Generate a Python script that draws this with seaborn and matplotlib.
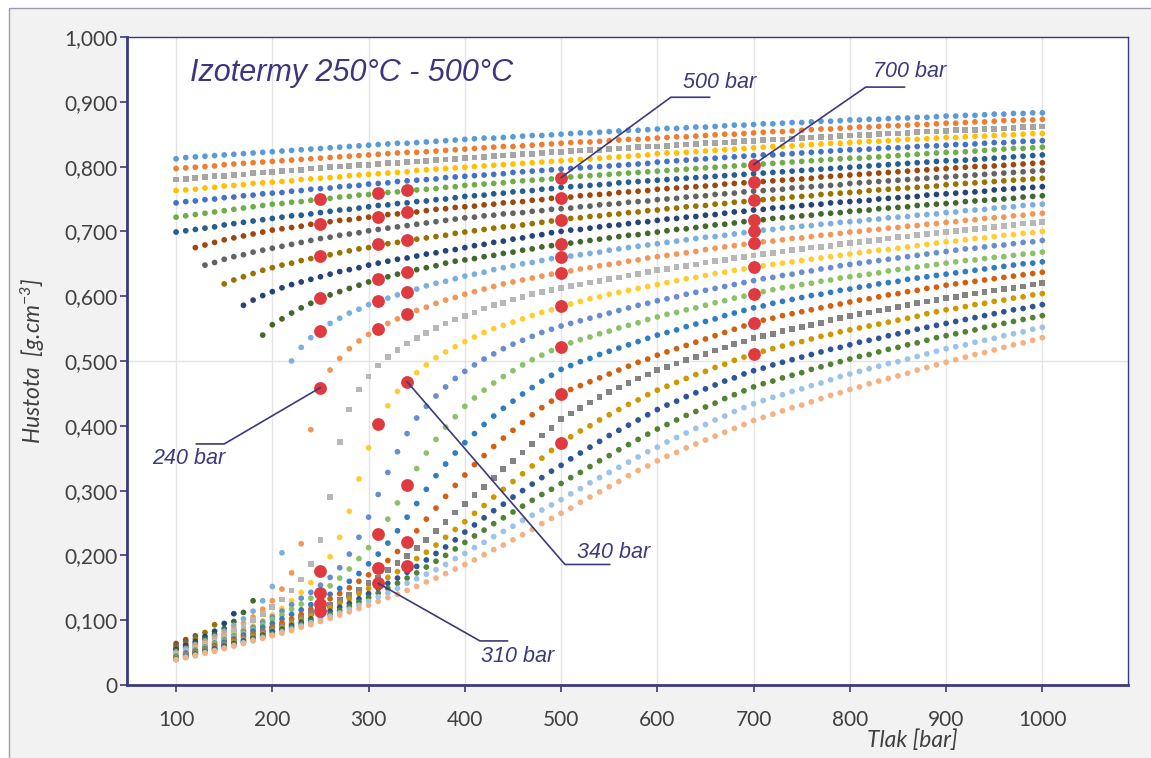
import numpy as np
import pandas as pd
import seaborn as sns
import matplotlib.pyplot as plt
from matplotlib.patches import Rectangle

# tlak [bar], body po 10 bar
tlak = list(range(100, 1001, 10))

# hustota izoterm v kg/m3, 250 C ... 500 C
h250 = [812, 814, 815, 816, 817, 818, 819, 820, 821, 822, 823,
        824, 825, 826, 827, 828, 829, 830, 831, 832, 833,
        834, 835, 836, 836, 837, 838, 839, 840, 841, 842,
        843, 844, 844, 845, 846, 847, 848, 848, 849, 850,
        851, 852, 852, 853, 854, 855, 856, 856, 857, 858,
        859, 859, 860, 861, 861, 862, 863, 864, 864, 865,
        866, 866, 867, 868, 868, 869, 870, 870, 871, 872,
        872, 873, 873, 874, 875, 875, 876, 876, 877, 878,
        878, 879, 879, 880, 881, 881, 882, 882, 883, 883]
h260 = [797, 798, 799, 800, 801, 803, 804, 805, 806, 807, 808,
        809, 810, 811, 812, 813, 814, 815, 816, 817, 818,
        819, 820, 821, 822, 822, 823, 824, 825, 826, 827,
        828, 829, 830, 831, 831, 832, 833, 834, 835, 836,
        837, 838, 838, 839, 840, 841, 842, 842, 843, 844,
        845, 846, 846, 847, 848, 849, 850, 850, 851, 852,
        853, 854, 854, 855, 856, 857, 858, 858, 859, 860,
        861, 861, 862, 863, 863, 864, 865, 865, 866, 867,
        867, 868, 869, 869, 870, 871, 871, 872, 872, 873]
h270 = [780, 781, 782, 784, 785, 786, 787, 788, 790, 791, 792,
        793, 794, 795, 797, 798, 799, 800, 801, 802, 803,
        804, 805, 806, 807, 808, 809, 810, 811, 812, 813,
        814, 815, 816, 817, 818, 819, 820, 821, 822, 823,
        824, 825, 826, 826, 827, 828, 829, 830, 831, 831,
        832, 833, 834, 835, 836, 836, 837, 838, 839, 840,
        841, 842, 842, 843, 844, 845, 846, 846, 847, 848,
        849, 849, 850, 851, 851, 852, 853, 854, 854, 855,
        856, 856, 857, 858, 858, 859, 860, 861, 861, 862]
h280 = [763, 764, 765, 767, 768, 770, 771, 772, 774, 775, 776,
        777, 778, 780, 781, 782, 783, 784, 786, 787, 788,
        789, 790, 791, 792, 794, 795, 796, 797, 798, 799,
        800, 801, 802, 803, 804, 805, 806, 807, 808, 809,
        810, 811, 812, 813, 814, 815, 816, 817, 818, 820,
        821, 821, 822, 823, 824, 825, 826, 827, 828, 829,
        830, 831, 831, 832, 833, 834, 835, 836, 836, 837,
        838, 839, 839, 840, 841, 842, 842, 843, 844, 845,
        845, 846, 847, 847, 848, 849, 849, 850, 851, 851]
h290 = [744, 746, 747, 749, 750, 752, 753, 755, 756, 758, 759,
        760, 762, 763, 765, 766, 767, 769, 770, 771, 773,
        774, 775, 777, 778, 779, 780, 781, 783, 784, 785,
        786, 787, 788, 789, 791, 792, 793, 794, 795, 796,
        797, 798, 799, 800, 801, 802, 803, 804, 805, 807,
        808, 809, 810, 811, 812, 813, 814, 815, 816, 817,
        818, 818, 819, 820, 821, 822, 823, 824, 825, 826,
        826, 827, 828, 829, 829, 830, 831, 832, 832, 833,
        834, 834, 835, 836, 837, 837, 838, 839, 839, 840]
h300 = [722, 724, 726, 728, 730, 732, 734, 736, 738, 740, 742,
        743, 745, 746, 748, 750, 751, 753, 754, 756, 757,
        758, 760, 761, 762, 764, 765, 766, 768, 769, 771,
        772, 773, 774, 775, 777, 778, 779, 780, 781, 783,
        784, 785, 786, 787, 788, 789, 790, 791, 792, 793,
        794, 795, 796, 797, 798, 799, 800, 801, 802, 803,
        804, 805, 806, 807, 808, 809, 810, 811, 812, 813,
        813, 814, 815, 816, 817, 818, 819, 820, 821, 822,
        822, 823, 824, 825, 826, 827, 828, 828, 829, 830]
h310 = [699, 701, 703, 705, 707, 710, 712, 714, 716, 718, 720,
        722, 724, 725, 727, 729, 731, 733, 734, 736, 738,
        740, 741, 743, 744, 746, 747, 749, 750, 752, 754,
        755, 756, 758, 759, 761, 762, 763, 765, 766, 768,
        769, 770, 771, 772, 773, 775, 776, 777, 778, 779,
        780, 781, 782, 783, 784, 785, 786, 787, 788, 789,
        790, 791, 792, 793, 794, 795, 796, 797, 798, 799,
        800, 801, 802, 803, 804, 805, 806, 807, 808, 809,
        809, 810, 811, 812, 813, 814, 815, 816, 817, 818]
h320 = [64, 70, 675, 679, 683, 687, 690, 693, 696, 699, 702,
        704, 706, 708, 711, 713, 715, 717, 718, 720, 722,
        724, 726, 727, 729, 730, 732, 734, 735, 737, 738,
        739, 741, 742, 744, 745, 746, 748, 749, 751, 752,
        753, 755, 756, 757, 758, 760, 761, 762, 763, 765,
        766, 767, 768, 769, 770, 771, 773, 774, 775, 776,
        777, 778, 779, 780, 781, 782, 784, 785, 786, 787,
        788, 789, 790, 791, 792, 793, 794, 795, 796, 797,
        798, 799, 800, 800, 801, 802, 803, 804, 805, 806]
h330 = [60, 67, 76, 648, 652, 657, 661, 664, 668, 671, 674,
        677, 680, 683, 686, 689, 691, 694, 696, 698, 701,
        703, 705, 707, 709, 711, 713, 715, 717, 719, 721,
        722, 724, 725, 727, 728, 729, 731, 732, 734, 735,
        736, 738, 739, 741, 742, 743, 745, 746, 747, 749,
        750, 751, 753, 754, 755, 757, 758, 759, 761, 762,
        763, 764, 765, 767, 768, 769, 770, 771, 772, 774,
        775, 776, 777, 778, 779, 780, 781, 782, 783, 784,
        785, 786, 787, 788, 789, 790, 791, 792, 793, 794]
h340 = [57, 63, 71, 81, 93, 619, 625, 630, 635, 640, 644,
        648, 651, 655, 658, 661, 664, 667, 670, 673, 675,
        678, 681, 683, 686, 688, 690, 692, 694, 697, 699,
        701, 703, 705, 707, 708, 710, 712, 714, 716, 718,
        720, 721, 723, 724, 726, 727, 729, 730, 732, 733,
        735, 736, 738, 739, 740, 742, 743, 745, 746, 748,
        749, 750, 751, 753, 754, 755, 757, 758, 759, 760,
        761, 763, 764, 765, 766, 767, 768, 769, 770, 772,
        773, 774, 775, 776, 777, 778, 779, 780, 781, 782]
h350 = [55, 61, 67, 75, 83, 95, 110, 586, 594, 601, 607,
        613, 618, 622, 626, 630, 634, 638, 641, 644, 648,
        651, 654, 657, 659, 662, 665, 667, 670, 672, 675,
        678, 680, 683, 685, 688, 690, 693, 695, 698, 700,
        702, 703, 705, 707, 709, 710, 712, 714, 715, 717,
        719, 720, 722, 723, 725, 726, 728, 730, 731, 733,
        734, 736, 737, 738, 740, 741, 742, 744, 745, 746,
        747, 748, 750, 751, 752, 753, 754, 756, 757, 758,
        759, 760, 761, 762, 764, 765, 766, 767, 768, 769]
h360 = [53, 58, 64, 71, 78, 87, 98, 112, 130, 540, 556,
        565, 574, 582, 589, 596, 602, 607, 612, 617, 622,
        626, 630, 634, 637, 641, 644, 647, 651, 654, 656,
        658, 661, 663, 666, 668, 671, 673, 676, 678, 680,
        682, 684, 686, 688, 690, 692, 694, 695, 697, 699,
        701, 703, 704, 706, 708, 710, 711, 713, 715, 717,
        718, 720, 721, 722, 724, 725, 727, 728, 729, 731,
        732, 733, 735, 736, 737, 738, 740, 741, 742, 743,
        744, 746, 747, 748, 749, 750, 751, 753, 754, 755]
h370 = [51, 56, 62, 68, 75, 83, 92, 102, 114, 130, 152,
        204, 500, 521, 536, 548, 558, 566, 574, 580, 587,
        592, 597, 602, 607, 611, 616, 620, 623, 627, 631,
        634, 637, 641, 644, 647, 650, 652, 655, 658, 660,
        662, 664, 666, 668, 671, 673, 675, 677, 679, 681,
        683, 685, 687, 689, 691, 692, 694, 696, 698, 700,
        702, 703, 705, 706, 708, 709, 711, 712, 714, 715,
        716, 718, 719, 721, 722, 723, 725, 726, 727, 729,
        730, 732, 733, 734, 736, 737, 738, 740, 741, 742]
h380 = [49, 54, 60, 66, 72, 79, 87, 95, 105, 117, 130,
        148, 173, 218, 394, 459, 486, 504, 519, 531, 541,
        550, 558, 565, 572, 578, 583, 589, 594, 598, 603,
        607, 611, 615, 619, 622, 625, 628, 631, 634, 637,
        639, 642, 644, 647, 649, 651, 654, 656, 659, 661,
        663, 665, 667, 669, 672, 674, 676, 678, 680, 682,
        684, 685, 687, 689, 690, 692, 694, 695, 697, 699,
        700, 702, 703, 705, 706, 708, 709, 711, 712, 714,
        715, 717, 718, 720, 721, 722, 724, 725, 727, 728]
h390 = [48, 53, 58, 63, 69, 76, 83, 91, 100, 110, 120,
        132, 146, 163, 187, 224, 290, 375, 425, 456, 476,
        493, 506, 517, 527, 535, 543, 551, 558, 564, 570,
        575, 581, 586, 590, 595, 599, 603, 606, 610, 613,
        616, 618, 621, 624, 626, 629, 632, 634, 637, 640,
        642, 645, 647, 649, 652, 654, 656, 659, 661, 663,
        665, 667, 669, 671, 673, 675, 676, 678, 680, 682,
        684, 685, 687, 689, 691, 692, 694, 696, 697, 699,
        701, 702, 704, 705, 707, 708, 710, 712, 713, 715]
h400 = [46, 51, 55, 60, 66, 71, 77, 84, 91, 99, 108,
        118, 130, 143, 158, 176, 198, 228, 268, 318, 366,
        403, 431, 453, 468, 482, 494, 505, 514, 522, 530,
        537, 544, 550, 555, 560, 565, 570, 575, 579, 584,
        588, 592, 596, 599, 603, 606, 609, 612, 615, 618,
        621, 624, 627, 629, 632, 635, 637, 640, 642, 645,
        647, 649, 651, 653, 655, 657, 659, 661, 663, 665,
        667, 669, 671, 672, 674, 676, 678, 680, 682, 684,
        685, 687, 689, 690, 692, 694, 695, 697, 698, 700]
h410 = [45, 50, 54, 59, 65, 70, 76, 83, 89, 97, 105,
        114, 124, 134, 143, 154, 166, 181, 202, 228, 259,
        294, 328, 360, 388, 412, 430, 446, 460, 473, 484,
        494, 503, 511, 519, 526, 532, 538, 544, 549, 554,
        558, 562, 566, 570, 574, 578, 582, 586, 589, 593,
        596, 599, 603, 606, 609, 612, 615, 618, 621, 624,
        627, 629, 632, 634, 637, 639, 642, 644, 647, 649,
        651, 653, 655, 657, 659, 661, 663, 665, 667, 669,
        671, 673, 674, 676, 678, 679, 681, 683, 684, 686]
h420 = [44, 48, 53, 58, 63, 68, 74, 80, 86, 93, 101,
        108, 117, 125, 134, 142, 153, 165, 179, 195, 212,
        233, 256, 281, 308, 334, 358, 379, 398, 414, 430,
        443, 455, 466, 476, 485, 494, 502, 509, 516, 522,
        528, 533, 537, 542, 546, 551, 555, 559, 564, 568,
        572, 575, 579, 582, 586, 590, 593, 597, 600, 604,
        607, 610, 613, 615, 618, 620, 623, 625, 628, 630,
        632, 634, 636, 639, 641, 643, 645, 647, 649, 651,
        653, 655, 656, 658, 660, 661, 663, 665, 666, 668]
h430 = [43, 48, 52, 56, 61, 66, 71, 77, 83, 89, 95,
        102, 109, 116, 124, 132, 140, 149, 160, 172, 187,
        202, 219, 238, 259, 280, 302, 323, 341, 358, 374,
        388, 402, 415, 427, 438, 449, 459, 469, 478, 487,
        493, 499, 504, 510, 515, 520, 525, 530, 535, 540,
        544, 548, 553, 557, 561, 565, 570, 574, 578, 582,
        585, 589, 592, 595, 598, 601, 603, 606, 609, 611,
        614, 616, 619, 621, 623, 626, 628, 630, 632, 634,
        636, 638, 640, 642, 644, 646, 648, 650, 651, 653]
h440 = [42, 47, 51, 55, 60, 64, 69, 74, 79, 84, 90,
        96, 102, 109, 117, 125, 133, 141, 150, 160, 170,
        180, 192, 206, 221, 238, 256, 273, 291, 308, 324,
        340, 354, 368, 381, 393, 405, 417, 428, 438, 449,
        456, 462, 468, 474, 480, 486, 492, 498, 503, 509,
        514, 519, 524, 529, 534, 539, 544, 549, 554, 559,
        563, 566, 570, 573, 576, 579, 582, 585, 588, 591,
        594, 596, 599, 602, 604, 607, 609, 612, 614, 617,
        619, 621, 623, 625, 627, 629, 631, 633, 635, 637]
h450 = [42, 46, 50, 54, 58, 62, 67, 71, 76, 81, 87,
        92, 98, 104, 111, 117, 124, 131, 139, 147, 157,
        166, 177, 188, 199, 211, 224, 238, 252, 266, 279,
        293, 306, 320, 333, 346, 359, 372, 385, 397, 410,
        419, 428, 436, 444, 452, 459, 466, 473, 479, 486,
        491, 496, 501, 506, 511, 516, 521, 526, 530, 535,
        539, 542, 546, 549, 553, 556, 559, 563, 566, 569,
        572, 575, 578, 580, 583, 586, 589, 592, 594, 597,
        599, 602, 604, 606, 609, 611, 613, 615, 618, 620]
h460 = [41, 45, 49, 53, 57, 61, 65, 70, 74, 79, 84,
        89, 95, 101, 107, 113, 119, 126, 133, 141, 149,
        157, 166, 175, 185, 195, 205, 216, 228, 240, 252,
        265, 277, 290, 302, 314, 326, 338, 350, 362, 374,
        383, 392, 400, 409, 417, 425, 433, 440, 448, 455,
        461, 467, 473, 479, 484, 490, 495, 501, 506, 511,
        515, 519, 523, 527, 530, 534, 538, 541, 545, 548,
        551, 554, 557, 560, 563, 566, 569, 573, 576, 579,
        581, 584, 587, 589, 592, 594, 597, 599, 602, 604]
h470 = [40, 44, 48, 52, 56, 60, 64, 68, 72, 77, 82,
        86, 92, 97, 102, 108, 114, 120, 126, 133, 141,
        149, 157, 165, 174, 183, 193, 203, 213, 224, 236,
        247, 258, 269, 279, 290, 300, 310, 320, 330, 339,
        349, 358, 367, 376, 385, 393, 401, 409, 417, 425,
        432, 438, 445, 451, 457, 463, 469, 474, 480, 485,
        489, 494, 498, 502, 506, 510, 514, 518, 521, 525,
        529, 532, 535, 539, 542, 545, 549, 552, 555, 558,
        561, 564, 567, 570, 573, 576, 579, 581, 584, 587]
h480 = [40, 43, 47, 51, 54, 58, 62, 66, 71, 75, 79,
        84, 89, 94, 99, 104, 109, 115, 121, 128, 135,
        142, 149, 157, 165, 173, 182, 191, 200, 210, 220,
        230, 239, 249, 258, 267, 276, 285, 294, 302, 311,
        320, 328, 337, 346, 354, 363, 371, 379, 387, 395,
        402, 409, 416, 422, 429, 435, 442, 448, 454, 460,
        465, 469, 474, 478, 482, 487, 491, 495, 499, 503,
        507, 510, 514, 518, 521, 525, 528, 532, 536, 539,
        542, 545, 548, 552, 555, 558, 561, 564, 567, 570]
h490 = [39, 43, 46, 50, 53, 57, 61, 65, 69, 73, 77,
        82, 86, 91, 96, 101, 106, 111, 117, 123, 129,
        136, 142, 149, 157, 164, 171, 178, 186, 195, 203,
        212, 220, 229, 237, 245, 254, 262, 270, 278, 286,
        295, 303, 312, 320, 328, 336, 344, 352, 360, 367,
        375, 382, 389, 396, 402, 409, 415, 422, 428, 434,
        439, 444, 448, 453, 457, 462, 466, 471, 476, 480,
        484, 488, 492, 496, 499, 503, 507, 511, 515, 519,
        522, 525, 529, 532, 535, 539, 542, 545, 549, 552]
h500 = [39, 42, 45, 49, 52, 56, 60, 64, 68, 72, 76,
        80, 84, 89, 93, 98, 103, 108, 113, 118, 123,
        129, 135, 140, 146, 152, 159, 165, 172, 179, 186,
        193, 201, 209, 216, 224, 232, 240, 249, 257, 265,
        273, 282, 290, 298, 306, 314, 323, 331, 338, 346,
        353, 359, 366, 372, 378, 384, 390, 396, 402, 408,
        413, 418, 423, 428, 432, 437, 442, 447, 451, 456,
        460, 465, 469, 473, 477, 481, 486, 490, 494, 498,
        502, 506, 510, 513, 517, 521, 525, 528, 532, 536]

izotermy = [250, 260, 270, 280, 290, 300, 310, 320, 330, 340, 350, 360, 370,
            380, 390, 400, 410, 420, 430, 440, 450, 460, 470, 480, 490, 500]
hustoty = [h250, h260, h270, h280, h290, h300, h310, h320, h330, h340, h350,
           h360, h370, h380, h390, h400, h410, h420, h430, h440, h450, h460,
           h470, h480, h490, h500]

# zvyraznene body (g/cm3), popisky tlaku
r240 = [0.750, 0.711, 0.662, 0.597, 0.547, 0.459, 0.176, 0.142, 0.125, 0.114]
r310 = [0.760, 0.722, 0.680, 0.626, 0.592, 0.550, 0.403, 0.233, 0.180, 0.157]
r340 = [0.764, 0.730, 0.686, 0.638, 0.607, 0.572, 0.468, 0.308, 0.221, 0.184]
r500 = [0.783, 0.752, 0.718, 0.680, 0.660, 0.636, 0.585, 0.522, 0.449, 0.374]
r700 = [0.803, 0.776, 0.748, 0.717, 0.700, 0.682, 0.645, 0.604, 0.559, 0.511]

barvy = ['#5B9BD5', '#ED7D31', '#A5A5A5', '#FFC000', '#4472C4', '#70AD47',
         '#255E91', '#9E480E', '#636363', '#997300', '#264478', '#43682B',
         '#7CAFDD', '#F1975A', '#B7B7B7', '#FFCD33', '#698ED0', '#8CC168',
         '#327DC2', '#D26012', '#848484', '#CC9A00', '#2F5597', '#548235',
         '#9DC3E6', '#F4B183']

for h in hustoty:
    assert len(h) == len(tlak), len(h)

df = pd.concat([pd.DataFrame({'tlak': tlak, 'hustota': np.array(h) / 1000, 'T': t})
                for t, h in zip(izotermy, hustoty)], ignore_index=True)
df['znacka'] = np.where(df['T'].isin([270, 390, 450]), 'ctverec', 'kruh')

sns.set_theme(style='white')
plt.rcParams['font.family'] = ['Lato', 'DejaVu Sans']
plt.rcParams['mathtext.fontset'] = 'custom'
plt.rcParams['mathtext.rm'] = 'Lato:italic'
plt.rcParams['mathtext.it'] = 'Lato:italic'

navy = '#3B3A7C'
W, H = 1151, 758
fig = plt.figure(figsize=(W / 100, H / 100), dpi=100)
fig.patch.set_facecolor('white')
fig.patches.append(Rectangle((9 / W, -0.01), 1.0, 1.01 - 8 / H, transform=fig.transFigure,
                             facecolor='#F2F2F2', edgecolor='#9A9AB5', lw=1.0, zorder=-10))

ax = fig.add_axes([127 / W, 1 - 685 / H, (1128 - 127) / W, (685 - 37) / H])
ax.set_facecolor('white')

for x in range(100, 1001, 100):
    ax.axvline(x, color='#E4E4E4', lw=1, zorder=0)
ax.axhline(0.5, color='#E4E4E4', lw=1, zorder=0)

sns.scatterplot(data=df, x='tlak', y='hustota', hue='T', palette=dict(zip(izotermy, barvy)),
                style='znacka', markers={'kruh': 'o', 'ctverec': 's'}, s=17, linewidth=0,
                legend=False, ax=ax, zorder=2)

cervena = '#DE3A3F'
for p, r in [(250, r240), (310, r310), (340, r340), (500, r500), (700, r700)]:
    sns.scatterplot(x=[p] * len(r), y=r, color=cervena, s=85, linewidth=0, ax=ax, zorder=3)

# popisky s odkazovymi carami
txt = dict(color=navy, fontsize=15.5, fontstyle='italic', family='Liberation Sans', va='center')
ax.plot([500, 614, 654.5], [r500[0], 0.907, 0.907], color=navy, lw=1.2, zorder=4)
ax.text(626.5, 0.930, '500 bar', ha='left', **txt)
ax.plot([700, 816.5, 857], [r700[0], 0.9227, 0.9227], color=navy, lw=1.2, zorder=4)
ax.text(824, 0.947, '700 bar', ha='left', **txt)
ax.plot([250, 150, 120.8], [r240[5], 0.372, 0.372], color=navy, lw=1.2, zorder=4)
ax.text(75, 0.349, '240 bar', ha='left', **txt)
ax.plot([340, 504, 550.7], [r340[6], 0.186, 0.186], color=navy, lw=1.2, zorder=4)
ax.text(516.4, 0.2045, '340 bar', ha='left', **txt)
ax.plot([310, 415.7, 444.5], [r310[-1], 0.068, 0.068], color=navy, lw=1.2, zorder=4)
ax.text(416.7, 0.0433, '310 bar', ha='left', **txt)

ax.text(114.5, 0.944, 'Izotermy 250°C - 500°C', ha='left', va='center', color='#3D3580',
        fontsize=22, fontstyle='italic', family='Liberation Sans')

ax.set_xlim(49, 1089)
ax.set_ylim(0, 1)
ax.set_xticks(range(100, 1001, 100))
yt = np.round(np.arange(0, 1.001, 0.1), 1)
ax.set_yticks(yt)
ax.set_yticklabels(['0'] + [f'{v:.3f}'.replace('.', ',') for v in yt[1:]])

for s in ax.spines.values():
    s.set_color(navy)
    s.set_linewidth(1.0)
ax.spines['left'].set_linewidth(2.0)
ax.spines['bottom'].set_linewidth(2.0)

ax.tick_params(axis='both', which='major', bottom=True, left=True, direction='out', length=5,
               width=1.2, color=navy, labelsize=15, labelcolor='#404040')
ax.tick_params(axis='x', pad=13)
ax.tick_params(axis='y', pad=2)

ax.set_xlabel('Tlak [bar]', fontsize=16.5, fontstyle='italic', color='#404040')
ax.set_ylabel('Hustota  [g.cm$^{-3}$]', fontsize=16.5, fontstyle='italic', color='#404040')
ax.xaxis.set_label_coords((912 - 127) / 1001, (685 - 729) / 648)
ax.yaxis.set_label_coords((47 - 127) / 1001, 0.5)

fig.savefig('out.png', dpi=100, facecolor=fig.get_facecolor())
